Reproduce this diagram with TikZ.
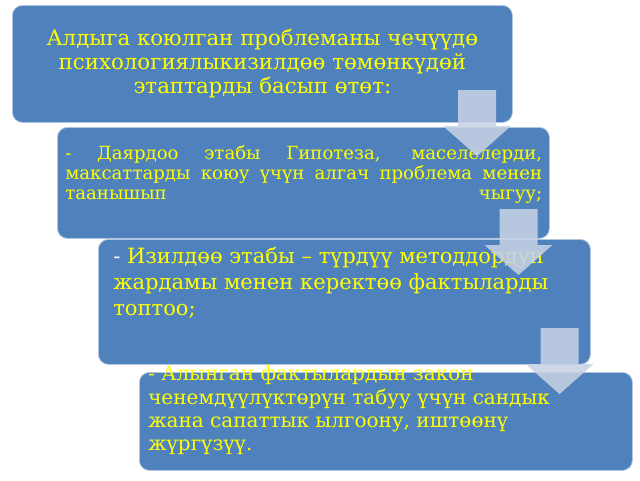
\documentclass[tikz,border=0pt]{standalone}
\usepackage{fontspec}
\setmainfont{DejaVu Serif}
\usetikzlibrary{positioning}
\definecolor{boxblue}{HTML}{4F81BD}
\definecolor{arrowgrey}{HTML}{C6D1E5}
\definecolor{textyellow}{HTML}{FFFF00}

\begin{document}
\begin{tikzpicture}[x=0.75pt, y=-0.75pt,
  stepbox/.style={draw=white!55!boxblue, line width=0.6pt, fill=boxblue,
    rounded corners=7.5pt, anchor=north west, inner sep=0pt},
  steptext/.style={text=textyellow, anchor=north west, inner sep=0pt},
  flowarrow/.style={fill=arrowgrey, fill opacity=0.88}]
  \useasboundingbox (0,0) rectangle (640,480);
  % the four stages
  \node[stepbox, minimum width=375pt, minimum height=87.75pt, text=textyellow,
    align=center, font=\fontsize{16}{18}\selectfont] (s1) at (12,5)
    {Алдыга коюлган проблеманы чечүүдө\\психологиялыкизилдөө төмөнкүдөй\\этаптарды басып өтөт:};
  \node[stepbox, minimum width=369pt, minimum height=83.25pt] (s2) at (57,127) {};
  \node[stepbox, minimum width=369pt, minimum height=93.75pt] (s3) at (98,239) {};
  \node[stepbox, minimum width=369.75pt, minimum height=73.5pt] (s4) at (139,372) {};
  \node[steptext, text width=357.75pt, align=justify,
    font=\fontsize{13.6}{15}\selectfont] (t2) at (65,145.5)
    {\parfillskip=0pt - Даярдоо этабы Гипотеза, маселелерди,\linebreak
     максаттарды коюу үчүн алгач проблема менен\linebreak
     таанышып чыгуу;\par};
  \node[steptext, align=left, font=\fontsize{15.8}{19.5}\selectfont] (t3) at (113,247)
    {\textcolor{white}{-} Изилдөө этабы – түрдүү методдордун\\жардамы менен керектөө фактыларды\\топтоо;};
  \node[steptext, align=left, font=\fontsize{15}{17.5}\selectfont] (t4) at (148,365.5)
    {- Алынган фактылардын закон\\ченемдүүлүктөрүн табуу үчүн сандык\\жана сапаттык ылгоону, иштөөнү\\жүргүзүү.};
  % block arrows between the stages
  \foreach \cx/\ty in {477/90, 518.5/209, 559.5/328}
    \fill[flowarrow] (\cx-19,\ty) -- (\cx+19,\ty) -- (\cx+19,\ty+36) -- (\cx+34,\ty+36)
      -- (\cx,\ty+66) -- (\cx-34,\ty+36) -- (\cx-19,\ty+36) -- cycle;
\end{tikzpicture}
\end{document}
